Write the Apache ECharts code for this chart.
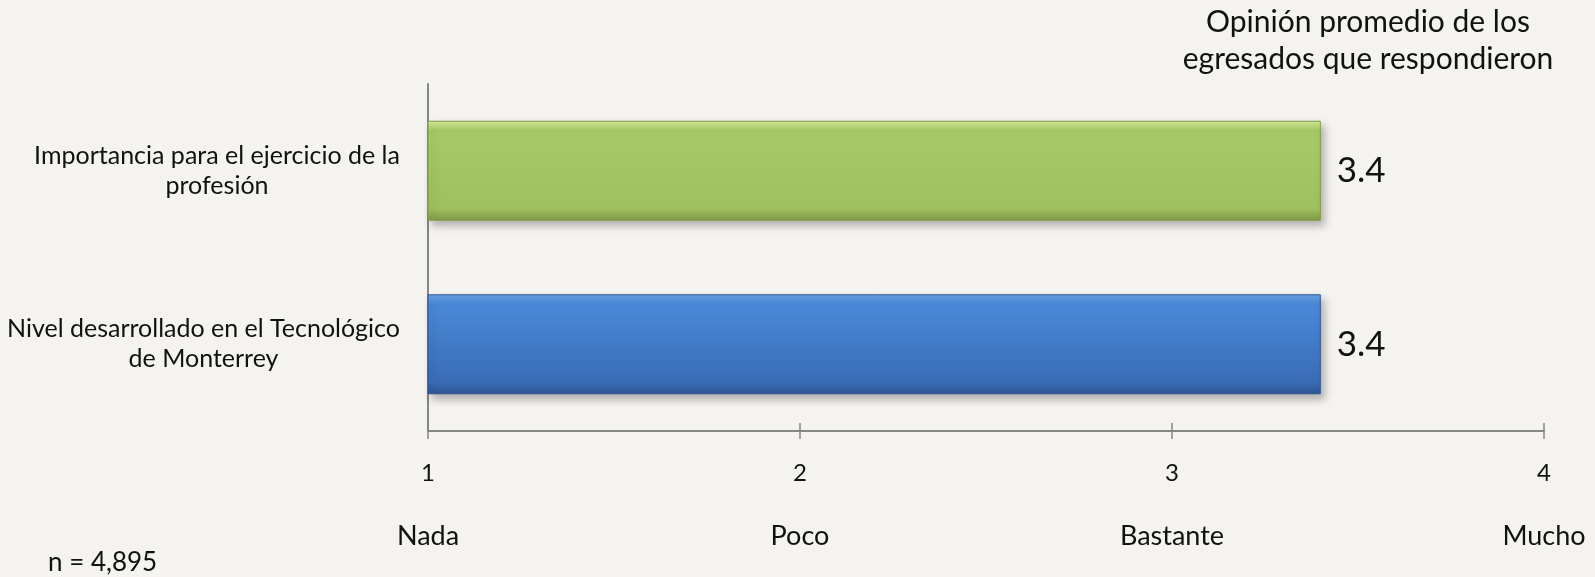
<!DOCTYPE html>
<html>
<head>
<meta charset="utf-8">
<script src="https://cdn.jsdelivr.net/npm/echarts@6/dist/echarts.min.js"></script>
<style>
  html, body { margin: 0; padding: 0; background: #f4f3ef; }
  #chart { width: 1595px; height: 577px; }
</style>
</head>
<body>
<div id="chart"></div>
<script>
// categorias (de abajo hacia arriba)
const categories = ['Nivel desarrollado en el Tecnológico\nde Monterrey', 'Importancia para el ejercicio de la\nprofesión']
const values = [3.4, 3.4]
const tickWords = { 1: 'Nada', 2: 'Poco', 3: 'Bastante', 4: 'Mucho' }

const FONT = 'Lato'
const CAT_SIZE = 25

// colores de barras: brillo arriba, medio, fondo, borde inferior
const barColors = [
  ['#6aa2e6', '#4a89d8', '#3a6cb6', '#2c558f'],
  ['#d2ec96', '#a8ca66', '#9fc05e', '#7d9a48']
]

// ancho de la linea mas larga de cada etiqueta: bloque a la derecha, lineas centradas
const ctx = document.createElement('canvas').getContext('2d')
ctx.font = CAT_SIZE + 'px ' + FONT
const catRich = {}
categories.forEach((c, i) => {
  const w = Math.max(...c.split('\n').map(l => ctx.measureText(l).width))
  catRich['w' + i] = { width: Math.ceil(w) + 2, align: 'center', fontFamily: FONT, fontSize: CAT_SIZE, lineHeight: 30, color: '#111' }
})

const chart = echarts.init(document.getElementById('chart'))

const option = {
  backgroundColor: '#f4f3ef',
  textStyle: { fontFamily: FONT },
  title: [
    {
      text: 'Opinión promedio de los\negresados que respondieron',
      left: 1363,
      top: -1,
      textAlign: 'center',
      textStyle: { fontFamily: FONT, fontSize: 30, fontWeight: 'normal', color: '#111', lineHeight: 37 }
    },
    {
      text: 'n = 4,895',
      left: 43,
      top: 545,
      textStyle: { fontFamily: FONT, fontSize: 26, fontWeight: 'normal', color: '#111' }
    }
  ],
  grid: { left: 428, right: 51, top: 84, bottom: 146, outerBoundsMode: 'none' },
  xAxis: [
    {
      type: 'value',
      min: 1,
      max: 4,
      interval: 1,
      splitLine: { show: false },
      axisLine: { show: true, lineStyle: { color: '#868686', width: 2 } },
      axisTick: { show: true, length: 8, lineStyle: { color: '#868686', width: 1.5 } },
      axisLabel: {
        margin: 22,
        formatter: v => '{n|' + v + '}\n{c|' + (tickWords[v] || '') + '}',
        rich: {
          n: { fontFamily: FONT, fontSize: 24, color: '#111', lineHeight: 40 },
          c: { fontFamily: FONT, fontSize: 27, color: '#111', lineHeight: 86 }
        }
      }
    },
    {
      type: 'value',
      min: 1,
      max: 4,
      interval: 1,
      position: 'bottom',
      splitLine: { show: false },
      axisLine: { show: false },
      axisTick: { show: true, inside: true, length: 8, lineStyle: { color: '#868686', width: 1.5 } },
      axisLabel: { show: false }
    }
  ],
  yAxis: {
    type: 'category',
    data: categories,
    axisLine: { show: true, lineStyle: { color: '#868686', width: 2 } },
    axisTick: { show: false },
    axisLabel: {
      align: 'right',
      margin: 27,
      formatter: (val, idx) => val.split('\n').map(l => '{w' + idx + '|' + l + '}').join('\n'),
      rich: catRich
    }
  },
  series: [
    {
      type: 'bar',
      data: values.map((v, i) => ({
        value: v,
        itemStyle: {
          color: new echarts.graphic.LinearGradient(0, 0, 0, 1, [
            { offset: 0, color: barColors[i][0] },
            { offset: 0.1, color: barColors[i][1] },
            { offset: 0.88, color: barColors[i][2] },
            { offset: 1, color: barColors[i][3] }
          ]),
          borderColor: barColors[i][3],
          borderWidth: 1,
          shadowColor: 'rgba(0,0,0,0.28)',
          shadowBlur: 8,
          shadowOffsetX: 4,
          shadowOffsetY: 5
        }
      })),
      barWidth: 100,
      label: {
        show: true,
        position: 'right',
        distance: 16,
        fontFamily: FONT,
        fontSize: 35,
        color: '#111',
        formatter: p => p.value.toFixed(1)
      }
    }
  ]
}

chart.setOption(option)
</script>
</body>
</html>
